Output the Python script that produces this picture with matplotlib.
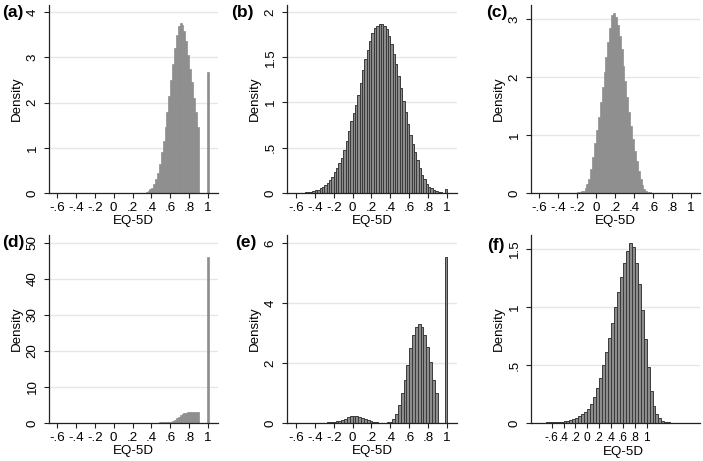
import numpy as np
import matplotlib
matplotlib.use('Agg')
import matplotlib.pyplot as plt

plt.rcParams['font.family'] = ['Liberation Sans', 'DejaVu Sans']

# ---- data (density per bin) ----
# (a) bins of 0.02 starting at 0.34, plus the spike at 1
a_start, a_width = 0.34, 0.02
a_dens = [0.02, 0.04, 0.08, 0.12, 0.20, 0.30, 0.45, 0.65, 0.90, 1.15,
          1.45, 1.80, 2.15, 2.50, 2.85, 3.20, 3.50, 3.70, 3.76, 3.72,
          3.58, 3.35, 3.05, 2.75, 2.45, 2.10, 1.80, 1.45]
a_spike = 2.68

# (b) bins of 0.025 from -0.6 to 1
b_start, b_width = -0.6, 0.025
b_dens = [0.002, 0.003, 0.004, 0.005, 0.007, 0.010, 0.015, 0.020, 0.028, 0.038,
          0.050, 0.065, 0.085, 0.110, 0.140, 0.180, 0.230, 0.280, 0.330, 0.390,
          0.470, 0.570, 0.680, 0.790, 0.880, 0.970, 1.080, 1.220, 1.360, 1.480,
          1.580, 1.680, 1.770, 1.820, 1.850, 1.870, 1.870, 1.850, 1.810, 1.740,
          1.650, 1.540, 1.420, 1.290, 1.160, 1.020, 0.890, 0.760, 0.640, 0.540,
          0.450, 0.360, 0.280, 0.200, 0.150, 0.100, 0.070, 0.050, 0.030, 0.020,
          0.010, 0.006, 0.004, 0.040]

# (c) bins of 0.02 starting at -0.22
c_start, c_width = -0.22, 0.02
c_dens = [0.005, 0.01, 0.02, 0.03, 0.04, 0.09, 0.16, 0.25, 0.42, 0.62,
          0.86, 1.09, 1.32, 1.57, 1.83, 2.09, 2.35, 2.60, 2.85, 3.07,
          3.11, 3.04, 2.90, 2.72, 2.48, 2.20, 1.93, 1.66, 1.40, 1.15,
          0.93, 0.73, 0.55, 0.38, 0.24, 0.14, 0.07, 0.04, 0.02, 0.01]

# (d) bins of 0.02 starting at 0.30, plus the spike at 1
d_start, d_width = 0.30, 0.02
d_dens = [0.05, 0.06, 0.07, 0.08, 0.09, 0.10, 0.11, 0.12, 0.13, 0.14,
          0.16, 0.18, 0.20, 0.24, 0.30, 0.40, 0.60, 0.90, 1.30, 1.70,
          2.10, 2.45, 2.70, 2.90, 3.00, 3.05, 3.05, 3.05, 3.00, 2.95]
d_spike = 46.2

# (e) bins of 0.03 from -0.6, plus the spike at 1
e_start, e_width = -0.6, 0.03
e_dens = [0.002, 0.002, 0.003, 0.003, 0.004, 0.005, 0.006, 0.008, 0.010, 0.012,
          0.015, 0.020, 0.030, 0.040, 0.055, 0.080, 0.110, 0.150, 0.190, 0.220,
          0.240, 0.240, 0.210, 0.170, 0.130, 0.090, 0.060, 0.035, 0.020, 0.012,
          0.012, 0.015, 0.025, 0.050, 0.120, 0.300, 0.600, 1.000, 1.450, 1.950,
          2.500, 2.950, 3.200, 3.300, 3.200, 2.950, 2.550, 2.050, 1.450, 1.000]
e_spike = 5.54

# (f) bins of 0.05 from -0.9
f_start, f_width = -0.9, 0.05
f_dens = [0.001, 0.002, 0.003, 0.004, 0.005, 0.006, 0.007, 0.008, 0.010, 0.012,
          0.015, 0.020, 0.027, 0.035, 0.045, 0.057, 0.075, 0.095, 0.120, 0.160,
          0.220, 0.300, 0.390, 0.500, 0.610, 0.730, 0.860, 1.000, 1.130, 1.260,
          1.380, 1.480, 1.550, 1.520, 1.380, 1.200, 0.970, 0.720, 0.480, 0.280,
          0.150, 0.080, 0.040, 0.020, 0.010, 0.005, 0.003]

x_ticks = [-0.6, -0.4, -0.2, 0, 0.2, 0.4, 0.6, 0.8, 1]
x_labels = ['-.6', '-.4', '-.2', '0', '.2', '.4', '.6', '.8', '1']
# panel (f) is squeezed, its labels run together as printed
f_labels = ['-.6', '.4', '.2', '0', '.2', '.4', '.6', '.8', '1']


def centers(start, width, n):
    return start + width * (np.arange(n) + 0.5)


W, H = 703, 461
fig = plt.figure(figsize=(W / 100, H / 100), dpi=100)
FS = 9.6


def make_ax(left, right, top, bottom):
    return fig.add_axes([left / W, 1 - bottom / H, (right - left) / W, (bottom - top) / H])


def style(ax, xlim, ylim, yticks, ylabels, xlabels=x_labels, xfs=FS):
    ax.set_xlim(*xlim)
    ax.set_ylim(*ylim)
    for s in ['top', 'right']:
        ax.spines[s].set_visible(False)
    for s in ['left', 'bottom']:
        ax.spines[s].set_color('#222222')
        ax.spines[s].set_linewidth(0.9)
    ax.set_yticks(yticks)
    ax.set_yticklabels(ylabels, rotation=90, va='center', fontsize=FS)
    ax.set_xticks(x_ticks)
    ax.set_xticklabels(xlabels, fontsize=xfs)
    ax.tick_params(axis='both', direction='out', length=3.5, width=0.8, color='#222222')
    ax.tick_params(axis='y', pad=4)
    ax.tick_params(axis='x', pad=3)
    ax.yaxis.grid(True, color='#e6e6e6', linewidth=1.0)
    ax.set_axisbelow(True)
    ax.set_xlabel('EQ-5D', fontsize=FS, labelpad=1)
    ax.set_ylabel('Density', fontsize=FS, labelpad=3)


solid = dict(color='#8e8e8e', edgecolor='#8e8e8e', linewidth=0.5)
lined = dict(color='#8c8c8c', edgecolor='#3a3a3a', linewidth=0.7)

# (a)
ax = make_ax(49, 218, 5, 193)
ax.bar(centers(a_start, a_width, len(a_dens)), a_dens, width=a_width, **solid)
ax.bar([1.0], [a_spike], width=0.025, **solid)
style(ax, (-0.685, 1.106), (0, 4.155), [0, 1, 2, 3, 4], ['0', '1', '2', '3', '4'])

# (b)
ax = make_ax(287, 457, 5, 193)
ax.bar(centers(b_start, b_width, len(b_dens)), b_dens, width=b_width, **lined)
style(ax, (-0.695, 1.106), (0, 2.077), [0, 0.5, 1, 1.5, 2], ['0', '.5', '1', '1.5', '2'])

# (c)
ax = make_ax(531, 700, 5, 193)
ax.bar(centers(c_start, c_width, len(c_dens)), c_dens, width=c_width, **solid)
style(ax, (-0.684, 1.095), (0, 3.247), [0, 1, 2, 3], ['0', '1', '2', '3'])

# (d)
ax = make_ax(49, 218, 235, 423)
ax.bar(centers(d_start, d_width, len(d_dens)), d_dens, width=d_width, **solid)
ax.bar([1.0], [d_spike], width=0.025, **solid)
style(ax, (-0.685, 1.106), (0, 52.2), [0, 10, 20, 30, 40, 50],
      ['0', '10', '20', '30', '40', '50'])

# (e)
ax = make_ax(287, 457, 235, 423)
ax.bar(centers(e_start, e_width, len(e_dens)), e_dens, width=e_width, **lined)
ax.bar([0.99], [e_spike], width=e_width, **lined)
style(ax, (-0.695, 1.106), (0, 6.27), [0, 2, 4, 6], ['0', '2', '4', '6'])

# (f)
ax = make_ax(531, 700, 235, 423)
ax.bar(centers(f_start, f_width, len(f_dens)), f_dens, width=f_width, **lined)
style(ax, (-0.948, 1.90), (0, 1.62), [0, 0.5, 1, 1.5], ['0', '.5', '1', '1.5'],
      xlabels=f_labels, xfs=8.6)
ax.xaxis.set_label_coords(0.545, -0.122)

# panel letters
for x, y, lab in [(2, 13, '(a)'), (231, 13, '(b)'), (486, 13, '(c)'),
                  (2, 243, '(d)'), (235, 243, '(e)'), (487, 245, '(f)')]:
    fig.text(x / W, 1 - y / H, lab, fontsize=12.5, fontweight='bold', va='center', ha='left')

fig.savefig('out.png', dpi=100)
